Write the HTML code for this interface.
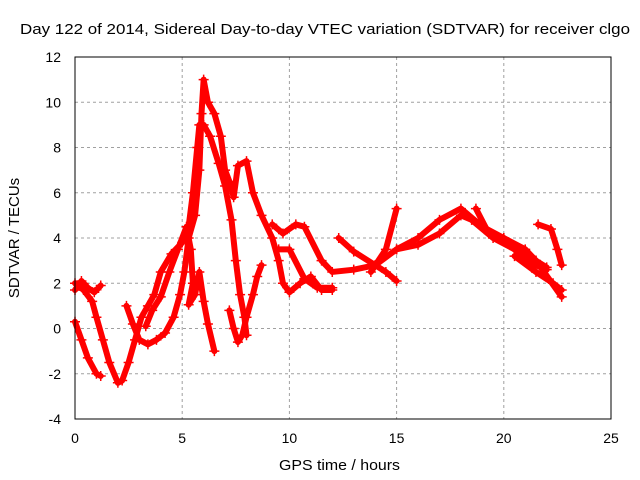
<!DOCTYPE html>
<html><head><meta charset="utf-8"><style>
body{margin:0;background:#fff;}
svg{display:block;font-family:"Liberation Sans",sans-serif;}
</style></head><body>
<svg id="chart" width="640" height="480" viewBox="0 0 640 480">
<text x="20" y="34" font-size="15" textLength="610" lengthAdjust="spacingAndGlyphs">Day 122 of 2014, Sidereal Day-to-day VTEC variation (SDTVAR) for receiver clgo</text>
<text x="279" y="470" font-size="15" textLength="121" lengthAdjust="spacingAndGlyphs">GPS time / hours</text>
<text transform="translate(19,238) rotate(-90)" font-size="15" text-anchor="middle">SDTVAR / TECUs</text>
<g id="grid"></g><g id="ticks"></g><g id="marks"></g>
<rect x="75" y="57" width="536" height="362" fill="none" stroke="#000" stroke-width="1"/>
</svg>
<script>
const xTicks=[0,5,10,15,20,25];
const yTicks=[-4,-2,0,2,4,6,8,10,12];
const track1=[[0,2],[0.4,1.7],[0.8,1.2],[1.0,0.5],[1.3,-0.5],[1.6,-1.5],[2.0,-2.4],[2.2,-2.3],[2.5,-1.5],[2.8,-0.5],[3.1,0.5],[3.4,1.0],[3.7,1.5],[4.0,2.5],[4.5,3.3],[5.0,3.8],[5.3,4.5],[5.5,6],[5.7,8],[5.8,9],[6.0,9],[6.3,8.5],[6.7,7.3],[7.0,6.3],[7.3,4.8],[7.5,3.0],[7.7,1.5],[7.9,0.5],[8.0,-0.3]];
const track2=[[0,0.3],[0.3,-0.5],[0.6,-1.3],[1.0,-2.0],[1.2,-2.1]];
const track3=[[0,1.7],[0.3,2.1],[0.6,1.8],[0.9,1.6],[1.2,1.9]];
const track4=[[2.4,1.0],[2.7,0.2],[3.0,-0.5],[3.4,-0.7],[3.8,-0.5],[4.2,-0.2],[4.6,0.5],[4.9,1.5],[5.1,2.5],[5.3,4],[5.6,5],[5.8,7],[5.9,9.5],[6.0,11],[6.2,10],[6.5,9.5],[6.8,8.5],[7.0,7],[7.2,6.5],[7.4,5.8],[7.6,7.2],[8.0,7.4],[8.3,6],[8.7,5],[9.2,4],[9.5,3],[9.7,2.0],[10,1.6],[10.5,2.0],[11,2.3],[11.5,1.7],[12,1.7]];
const track5=[[3.3,0.1],[3.6,0.8],[4.0,1.4],[4.4,2.5],[4.8,3.5],[5.2,4.5],[5.4,3.5],[5.5,2],[5.3,1.05],[5.6,1.5],[5.8,2.5],[6.0,1.2],[6.2,0.2],[6.5,-1]];
const track6=[[7.2,0.8],[7.4,0],[7.6,-0.6],[7.8,-0.3],[8.0,0.5],[8.3,1.5],[8.5,2.3],[8.7,2.8]];
const track7=[[9.2,4.6],[9.7,4.2],[10.3,4.6],[10.7,4.5],[11.5,3.0],[12,2.5],[13,2.6],[14,2.8],[15,3.5],[16,3.7],[17,4.2],[18,5],[18.5,4.8],[19.5,4.0],[20.5,3.5],[21.5,3],[22.7,1.4]];
const track8=[[9.5,3.5],[10,3.5],[10.7,2.2],[11.3,1.8],[12,1.8]];
const track9=[[12.3,4.0],[13,3.4],[14,2.8],[14.5,2.5],[15,2.1]];
const track10=[[13.8,2.5],[14.5,3.5],[15,5.3]];
const track11=[[15,3.5],[16,4],[17,4.8],[18,5.3],[19,4.5],[20,4],[21,3.5],[21.5,3.0],[22,2.7]];
const track12=[[18.7,5.3],[19.3,4.2],[20,4],[21,3],[22,2.6]];
const track13=[[21.6,4.6],[22.2,4.4],[22.5,3.5],[22.7,2.8]];
const track14=[[20.5,3.2],[21.5,2.5],[22.3,2.0],[22.7,1.7]];
const tracks=[track1,track2,track3,track4,track5,track6,track7,track8,track9,track10,track11,track12,track13,track14];
const X0=75,X1=611,Y0=419,Y1=57;
const sx=t=>X0+(t-0)/25*(X1-X0);
const sy=v=>Y0-(v+4)/16*(Y0-Y1);
const NS="http://www.w3.org/2000/svg";
const grid=document.getElementById('grid'),ticks=document.getElementById('ticks'),marks=document.getElementById('marks');
function mk(tag,attrs,parent){const e=document.createElementNS(NS,tag);for(const k in attrs)e.setAttribute(k,attrs[k]);parent.appendChild(e);return e;}
xTicks.forEach(t=>{
  const x=sx(t);
  if(t>0&&t<25){const g=mk('line',{x1:x,x2:x,y1:Y1,y2:Y0,stroke:'#a0a0a0','stroke-dasharray':'3,3'},grid);
  
  }
  const l=mk('text',{x:x,y:443,'font-size':14,'text-anchor':'middle'},ticks);l.textContent=t;
  
  
});
yTicks.forEach(v=>{
  const y=sy(v);
  if(v>-4&&v<12){const g=mk('line',{x1:X0,x2:X1,y1:y,y2:y,stroke:'#a0a0a0','stroke-dasharray':'3,3'},grid);
  
  }
  const l=mk('text',{x:61,y:y+5,'font-size':14,'text-anchor':'end'},ticks);l.textContent=v;
  
  
});
tracks.forEach((tr,i)=>{
  const p=mk('polyline',{points:tr.map(d=>sx(d[0])+','+sy(d[1])).join(' '),fill:'none',stroke:'#ff0000','stroke-width':6,'stroke-linejoin':'round','stroke-linecap':'round'},marks);
  
  
  tr.forEach(d=>{
    const x=sx(d[0]),y=sy(d[1]);
    const c=mk('path',{d:`M${x-5},${y}H${x+5}M${x},${y-5}V${y+5}`,stroke:'#ff0000','stroke-width':1.5},marks);
    
    
  });
});
</script>
</body></html>
